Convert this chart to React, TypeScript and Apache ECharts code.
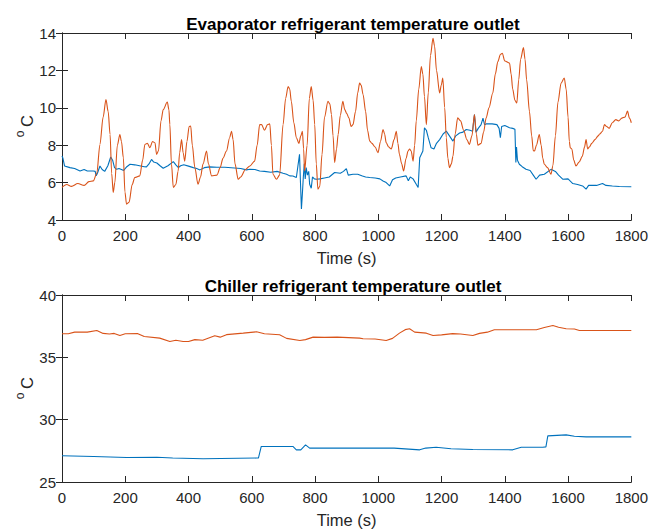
import React, { useEffect, useRef } from "react";
import * as echarts from "echarts";

// ---- Data (time in s, temperature in °C) ----
const evapBlue: [number, number][] = [
  [0,7.42],[3,7.3],[8,6.89],[25,6.8],[40,6.75],[57,6.62],[70,6.7],[80,6.62],[99,6.62],[105,6.6],[108,6.36],[112,6.5],[120,6.89],[127,6.7],[135,6.6],[145,6.9],[154,7.37],[160,7.2],[166,6.8],[173,6.71],[180,6.75],[188,6.7],[195,6.65],[205,6.85],[215,6.98],[230,6.95],[245,6.9],[260,6.85],[267,6.84],[275,7.0],[283,7.24],[290,7.1],[300,7.05],[310,6.9],[320,6.77],[335,6.9],[352,7.12],[360,6.95],[368,6.8],[375,6.9],[385,6.95],[400,6.88],[415,6.8],[426,6.75],[436,6.68],[450,6.8],[467,6.84],[490,6.82],[515,6.82],[545,6.78],[565,6.75],[583,6.68],[594,6.71],[610,6.7],[625,6.62],[640,6.6],[660,6.55],[680,6.6],[699,6.5],[710,6.45],[720,6.36],[730,6.35],[741,6.27],[746,6.9],[751,7.51],[754,6.0],[757,4.59],[760,5.4],[763,6.3],[766,7.0],[769,6.2],[772,6.8],[776,6.4],[780,6.6],[783,5.91],[788,5.7],[792,6.3],[798,6.2],[804,6.18],[815,6.2],[830,6.25],[845,6.3],[862,6.54],[880,6.5],[890,6.6],[899,6.75],[905,6.4],[920,6.45],[935,6.45],[950,6.35],[960,6.3],[973,6.27],[990,6.25],[1005,6.2],[1015,6.09],[1025,6.0],[1036,5.82],[1045,6.15],[1055,6.25],[1070,6.3],[1088,6.36],[1095,6.1],[1101,6.3],[1110,6.2],[1120,5.91],[1126,5.74],[1131,7.33],[1141,7.69],[1146,8.93],[1152,8.8],[1158,8.4],[1167,7.86],[1176,7.8],[1184,8.1],[1194,8.3],[1205,8.6],[1215,8.75],[1225,8.5],[1236,8.22],[1245,8.5],[1257,8.65],[1268,8.7],[1278,8.84],[1290,8.8],[1298,8.75],[1304,9.64],[1309,8.7],[1316,8.9],[1325,9.1],[1331,9.45],[1336,9.1],[1341,9.14],[1360,9.14],[1375,9.1],[1382,8.9],[1386,8.4],[1390,9.0],[1400,9.05],[1415,8.93],[1425,8.9],[1432,8.85],[1435,7.07],[1437,7.9],[1440,7.2],[1446,6.98],[1455,6.85],[1467,6.71],[1480,6.65],[1490,6.4],[1499,6.18],[1510,6.4],[1525,6.45],[1546,6.71],[1560,6.6],[1570,6.4],[1583,6.18],[1600,6.2],[1615,5.95],[1630,5.9],[1646,5.82],[1657,5.65],[1665,5.85],[1690,5.85],[1709,5.95],[1720,5.85],[1740,5.82],[1762,5.79],[1800,5.78]
];

const evapOrange: [number, number][] = [
  [0,5.74],[15,5.9],[30,5.8],[50,5.95],[70,5.85],[85,6.05],[99,6.09],[110,6.5],[120,8.04],[130,9.5],[139,10.44],[146,9.8],[152,8.57],[157,6.5],[162,5.47],[167,6.0],[175,8.0],[183,8.57],[188,8.2],[194,7.33],[199,5.5],[204,4.85],[212,4.95],[222,5.9],[230,6.27],[246,6.36],[255,7.2],[262,8.04],[270,8.1],[278,7.86],[286,8.2],[294,8.13],[299,7.51],[305,7.7],[313,9.3],[320,9.9],[333,10.31],[338,9.9],[341,9.1],[346,7.0],[352,5.74],[360,5.9],[367,6.6],[372,7.6],[378,8.3],[383,7.6],[388,7.15],[395,8.2],[402,9.0],[407,9.02],[412,8.0],[420,6.8],[430,5.91],[438,6.3],[446,7.0],[457,7.69],[463,7.0],[473,6.36],[490,6.4],[500,6.8],[509,7.3],[520,7.69],[530,8.4],[536,8.75],[541,8.3],[547,7.0],[557,6.18],[565,6.3],[580,6.7],[594,6.89],[609,7.15],[617,8.0],[625,9.1],[631,9.1],[640,8.8],[650,9.1],[657,9.14],[662,8.0],[667,6.45],[678,6.18],[688,6.4],[699,9.1],[707,10.5],[715,11.14],[720,11.0],[725,10.35],[733,9.2],[741,8.4],[749,8.1],[755,8.5],[760,8.75],[764,7.8],[767,6.62],[775,8.0],[782,10.5],[788,11.14],[794,10.4],[799,9.1],[804,7.0],[809,5.65],[815,5.8],[822,7.5],[830,9.5],[841,10.35],[847,10.2],[852,9.64],[857,8.5],[862,7.07],[868,7.8],[873,8.57],[880,9.6],[888,10.35],[894,9.9],[900,9.7],[907,9.46],[914,9.0],[920,9.1],[928,9.8],[935,10.8],[941,11.32],[946,11.2],[952,10.7],[960,9.8],[966,8.8],[973,8.22],[980,8.1],[990,7.9],[999,7.6],[1007,8.2],[1015,8.84],[1020,8.6],[1025,8.13],[1033,7.9],[1041,7.8],[1050,8.3],[1057,8.75],[1062,8.1],[1067,7.5],[1074,7.0],[1080,6.62],[1088,7.3],[1094,7.69],[1099,7.8],[1104,7.69],[1110,7.15],[1115,8.0],[1120,9.3],[1128,11.0],[1136,12.21],[1141,11.8],[1146,10.6],[1152,9.1],[1158,10.8],[1165,12.8],[1173,13.72],[1178,13.3],[1184,12.0],[1194,10.79],[1199,11.2],[1204,11.59],[1210,10.0],[1215,8.4],[1220,7.3],[1225,6.8],[1231,7.0],[1236,7.4],[1243,8.6],[1251,9.46],[1260,9.3],[1270,8.8],[1280,8.3],[1288,8.04],[1296,8.5],[1304,9.64],[1310,8.6],[1315,8.0],[1325,8.1],[1333,8.7],[1341,9.46],[1350,10.0],[1362,10.79],[1370,11.8],[1378,12.47],[1386,12.85],[1392,12.92],[1400,12.5],[1415,12.39],[1420,11.8],[1425,11.0],[1432,10.4],[1438,10.26],[1444,11.5],[1450,12.6],[1459,13.22],[1464,12.6],[1469,11.5],[1478,9.8],[1485,8.5],[1490,7.7],[1494,7.69],[1500,8.0],[1509,8.57],[1515,8.0],[1520,7.3],[1525,6.98],[1535,6.8],[1546,6.45],[1552,6.9],[1560,8.5],[1568,10.3],[1578,11.32],[1588,11.59],[1594,11.0],[1600,9.5],[1604,8.2],[1607,7.86],[1612,7.8],[1618,7.2],[1625,6.89],[1635,7.1],[1645,7.4],[1652,7.9],[1657,8.3],[1662,7.8],[1667,7.9],[1675,8.1],[1685,8.3],[1695,8.5],[1700,8.6],[1709,8.75],[1715,9.1],[1722,9.0],[1730,8.9],[1740,9.2],[1751,9.37],[1760,9.3],[1770,9.45],[1780,9.5],[1788,9.82],[1794,9.45],[1800,9.2]
];

const chillerBlue: [number, number][] = [
  [0,27.1],[100,27.05],[204,26.97],[300,26.99],[350,26.92],[446,26.87],[615,26.92],[621,26.92],[630,27.85],[730,27.85],[741,27.58],[755,27.58],[770,27.98],[783,27.72],[900,27.72],[1050,27.72],[1131,27.58],[1150,27.72],[1183,27.79],[1230,27.67],[1299,27.61],[1425,27.58],[1452,27.79],[1520,27.79],[1530,27.82],[1536,28.7],[1594,28.78],[1620,28.67],[1657,28.62],[1800,28.62]
];

const chillerOrange: [number, number][] = [
  [0,36.89],[20,36.89],[40,37.02],[80,37.02],[110,37.15],[130,36.92],[150,36.87],[165,36.92],[183,36.75],[200,36.89],[240,36.9],[260,36.67],[309,36.54],[341,36.27],[360,36.37],[383,36.27],[400,36.27],[420,36.42],[445,36.37],[483,36.73],[500,36.62],[520,36.82],[573,36.94],[615,37.05],[640,36.89],[688,36.81],[710,36.52],[752,36.35],[770,36.42],[794,36.62],[830,36.6],[870,36.62],[941,36.54],[952,36.49],[990,36.47],[1025,36.35],[1045,36.52],[1067,36.94],[1085,37.22],[1099,37.29],[1115,37.02],[1152,36.94],[1173,36.75],[1200,36.8],[1235,36.9],[1260,36.87],[1299,36.75],[1320,36.92],[1345,37.02],[1367,37.21],[1500,37.21],[1525,37.39],[1552,37.55],[1570,37.42],[1594,37.29],[1620,37.27],[1636,37.15],[1800,37.15]
];

const titles = ["Evaporator refrigerant temperature outlet", "Chiller refrigerant temperature outlet"];
const xName = "Time (s)";
const xRange = [0, 1800, 200];
const yRanges = [[4, 14, 2], [25, 40, 5]];

const BLUE = "#0072BD";
const ORANGE = "#D95319";
const AX = "#262626";
const FONT = "'Liberation Sans', Arial, Helvetica, sans-serif";

export default function App() {
  const ref = useRef<HTMLDivElement>(null);
  useEffect(() => {
    if (!ref.current) return;
    const chart = echarts.init(ref.current, null, { renderer: "svg" });
    const grids = [
      { left: 62, top: 33, width: 571, height: 187 },
      { left: 62, top: 295, width: 571, height: 187 },
    ];
    const xAxes: any[] = [];
    const yAxes: any[] = [];
    grids.forEach((_, gi) => {
      const base = {
        gridIndex: gi,
        type: "value",
        splitLine: { show: false },
        axisLine: { show: true, lineStyle: { color: AX, width: 1 } },
        axisTick: { show: true, inside: true, length: 6, lineStyle: { color: AX } },
      };
      xAxes.push({
        ...base,
        position: "bottom",
        min: xRange[0], max: xRange[1], interval: xRange[2],
        axisLabel: { color: AX, fontSize: 15, fontFamily: FONT, margin: 8, formatter: (v: number) => String(v) },
        name: xName, nameLocation: "middle", nameGap: 29,
        nameTextStyle: { color: AX, fontSize: 16.5, fontFamily: FONT },
      });
      xAxes.push({
        ...base,
        position: "top",
        min: xRange[0], max: xRange[1], interval: xRange[2],
        axisLabel: { show: false },
      });
      const [ymin, ymax, yint] = yRanges[gi];
      yAxes.push({
        ...base,
        position: "left",
        min: ymin, max: ymax, interval: yint,
        axisLabel: { color: AX, fontSize: 15, fontFamily: FONT, margin: 6, formatter: (v: number) => String(v) },
      });
      yAxes.push({
        ...base,
        position: "right",
        min: ymin, max: ymax, interval: yint,
        axisLabel: { show: false },
      });
    });
    const line = (data: [number, number][], color: string, gi: number, smooth: number | boolean = false) => ({
      type: "line",
      data,
      xAxisIndex: gi * 2,
      yAxisIndex: gi * 2,
      showSymbol: false,
      symbol: "none",
      smooth,
      smoothMonotone: "x",
      lineStyle: { color, width: 1.1 },
      itemStyle: { color },
    });
    const yLabel = (cy: number) => ({
      type: "group",
      children: [
        { type: "text", x: 27, y: cy - 6, rotation: Math.PI / 2,
          style: { text: "C", font: `16.5px ${FONT}`, fill: AX, align: "center", verticalAlign: "middle" } },
        { type: "text", x: 20, y: cy + 7, rotation: Math.PI / 2,
          style: { text: "o", font: `12px ${FONT}`, fill: AX, align: "center", verticalAlign: "middle" } },
      ],
    });
    chart.setOption({
      animation: false,
      backgroundColor: "#ffffff",
      title: titles.map((t, i) => ({
        text: t,
        left: 348,
        top: i === 0 ? 11 : 273,
        textAlign: "center",
        textStyle: { color: "#000", fontSize: 17, fontWeight: "bold", fontFamily: FONT },
      })),
      grid: grids,
      xAxis: xAxes,
      yAxis: yAxes,
      series: [
        line(evapBlue, BLUE, 0),
        line(evapOrange, ORANGE, 0, 0.3),
        line(chillerBlue, BLUE, 1),
        line(chillerOrange, ORANGE, 1),
      ],
      graphic: [yLabel(127), yLabel(389)],
    });
    return () => chart.dispose();
  }, []);
  return (
    <div
      ref={ref}
      style={{ position: "absolute", left: 0, top: 0, width: 651, height: 530, background: "#fff" }}
    />
  );
}
